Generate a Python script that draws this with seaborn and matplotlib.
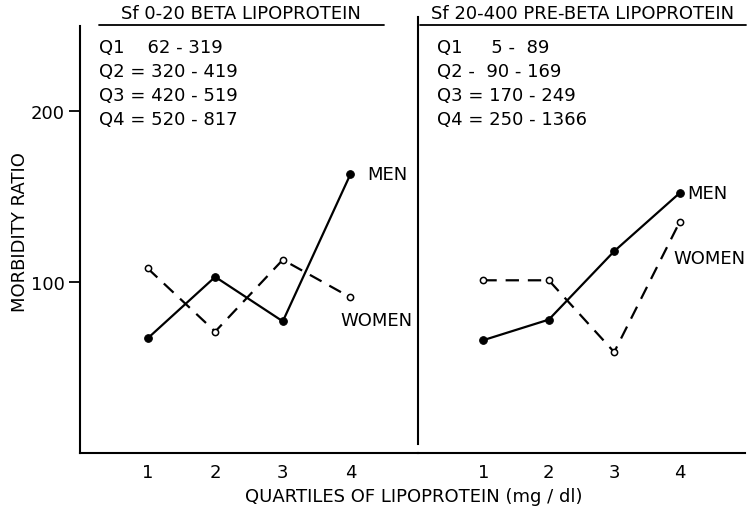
import matplotlib
matplotlib.use("Agg")
import matplotlib.pyplot as plt
import seaborn as sns
import pandas as pd
from matplotlib.lines import Line2D

# ---- data ----
quartiles = [1, 2, 3, 4]
beta_men = [67, 103, 77, 163]
beta_women = [108, 71, 113, 91]
prebeta_men = [66, 78, 118, 152]
prebeta_women = [101, 101, 59, 135]

beta_title = "Sf 0-20 BETA LIPOPROTEIN"
prebeta_title = "Sf 20-400 PRE-BETA LIPOPROTEIN"
beta_ranges = ["Q1    62 - 319", "Q2 = 320 - 419", "Q3 = 420 - 519", "Q4 = 520 - 817"]
prebeta_ranges = ["Q1     5 -  89", "Q2 -  90 - 169", "Q3 = 170 - 249", "Q4 = 250 - 1366"]
y_ticks = [100, 200]
x_label = "QUARTILES OF LIPOPROTEIN (mg / dl)"
y_label = "MORBIDITY RATIO"

sns.set_style("white")
plt.rcParams["font.family"] = ["DejaVu Sans"]
plt.rcParams["text.color"] = "black"
plt.rcParams["xtick.color"] = "black"
plt.rcParams["ytick.color"] = "black"
plt.rcParams["xtick.labelcolor"] = "black"
plt.rcParams["ytick.labelcolor"] = "black"
FS = 13

W, H = 753, 510
fig = plt.figure(figsize=(W / 100, H / 100), dpi=100)

def fx(px):
    return px / W

def fy(py):
    return 1 - py / H

ax_top, ax_bot = 26.5, 454
axL = fig.add_axes([fx(80), fy(ax_bot), fx(418 - 80), (ax_bot - ax_top) / H])
axR = fig.add_axes([fx(418), fy(ax_bot), fx(745 - 418), (ax_bot - ax_top) / H])

def build(men, women):
    return pd.DataFrame({
        "q": quartiles * 2,
        "ratio": men + women,
        "sex": ["MEN"] * 4 + ["WOMEN"] * 4,
    })

for ax, men, women in [(axL, beta_men, beta_women), (axR, prebeta_men, prebeta_women)]:
    df = build(men, women)
    sns.lineplot(data=df[df.sex == "MEN"], x="q", y="ratio", ax=ax, color="black",
                 lw=1.6, marker="o", markersize=5.5, markerfacecolor="black",
                 markeredgecolor="black", legend=False)
    sns.lineplot(data=df[df.sex == "WOMEN"], x="q", y="ratio", ax=ax, color="black",
                 lw=1.6, marker="o", markersize=4.5, markerfacecolor="white",
                 markeredgecolor="black", markeredgewidth=1.1, dashes=(6, 4),
                 legend=False)
    ax.set_xlim(0, 5)
    ax.set_ylim(0, 250)
    ax.set_xticks(quartiles)
    ax.set_xticklabels([str(q) for q in quartiles], fontsize=FS)
    ax.tick_params(axis="x", direction="in", length=8, width=1.3, pad=7)
    ax.set_xlabel("")
    ax.set_ylabel("")
    ax.spines["top"].set_visible(False)
    ax.spines["right"].set_visible(False)
    for s in ["left", "bottom"]:
        ax.spines[s].set_linewidth(1.5)
        ax.spines[s].set_color("black")
    ax.patch.set_alpha(0)

axL.set_yticks(y_ticks)
axL.set_yticklabels([str(t) for t in y_ticks], fontsize=FS)
axL.tick_params(axis="y", direction="out", length=8, width=1.3, pad=3, left=True)
axR.set_yticks([])
axR.spines["left"].set_bounds(5, 255)
axR.set_ylim(0, 250)

# series labels
axL.text(4.25, 163, "MEN", fontsize=FS, va="center", ha="left")
axL.text(3.85, 78, "WOMEN", fontsize=FS, va="center", ha="left")
axR.text(4.12, 152, "MEN", fontsize=FS, va="center", ha="left")
axR.text(3.9, 114, "WOMEN", fontsize=FS, va="center", ha="left")

# titles with underline
fig.text(fx(241), fy(14), beta_title, fontsize=FS, ha="center", va="center")
fig.text(fx(583), fy(14), prebeta_title, fontsize=FS, ha="center", va="center")
fig.add_artist(Line2D([fx(99), fx(384)], [fy(26), fy(26)], color="black", lw=1.3))
fig.add_artist(Line2D([fx(420), fx(746)], [fy(26), fy(26)], color="black", lw=1.3))

# quartile ranges
for i, (a, b) in enumerate(zip(beta_ranges, prebeta_ranges)):
    yy = fy(48 + i * 24)
    fig.text(fx(99), yy, a, fontsize=FS, ha="left", va="center")
    fig.text(fx(437), yy, b, fontsize=FS, ha="left", va="center")

fig.text(fx(20), fy(232), y_label, fontsize=FS, rotation=90, ha="center", va="center")
fig.text(fx(414), fy(497), x_label, fontsize=FS, ha="center", va="center")

fig.savefig("out.png", dpi=100)
